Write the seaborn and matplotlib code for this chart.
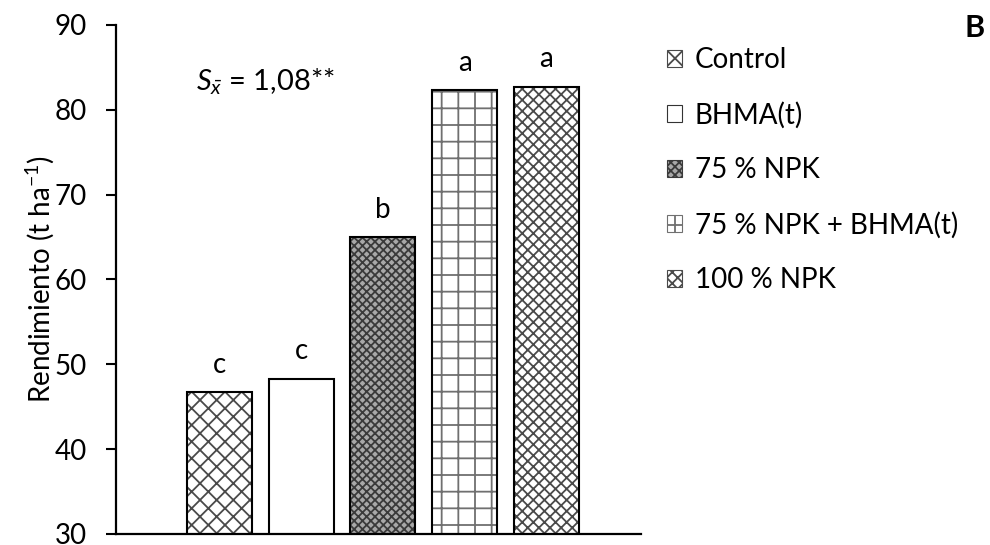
import matplotlib
matplotlib.use("Agg")
import matplotlib.pyplot as plt
import seaborn as sns
import pandas as pd
from matplotlib.patches import Patch

# ---- data ----
categories = ["Control", "BHMA(t)", "75 % NPK", "75 % NPK + BHMA(t)", "100 % NPK"]
values = [46.7, 48.3, 65.0, 82.3, 82.7]
letters = ["c", "c", "b", "a", "a"]
y_ticks = [30, 40, 50, 60, 70, 80, 90]
stat_text = r"$S_{\bar{x}}$ = 1,08**"
panel_label = "B"
ylabel = r"Rendimiento (t ha$^{-1}$)"

# ---- styles ----
face_colors = ["white", "white", "#a8a8a8", "white", "white"]
hatch_colors = ["#4a4a4a", "#ffffff", "#3a3a3a", "#707070", "#4a4a4a"]
hatches = ["xx", "", "xxxx", "+", "xxx"]

sns.set_theme(style="white")
plt.rcParams["font.family"] = ["Lato", "DejaVu Sans"]
plt.rcParams["mathtext.fontset"] = "custom"
plt.rcParams["mathtext.rm"] = "Lato"
plt.rcParams["mathtext.it"] = "Lato:italic"
plt.rcParams["mathtext.bf"] = "Lato:bold"
plt.rcParams["hatch.linewidth"] = 1.3

FS = 20

df = pd.DataFrame({"cat": categories, "val": values})

fig = plt.figure(figsize=(9.9, 5.45), dpi=100)
ax = fig.add_axes([116 / 990, 11 / 545, 524.7 / 990, 509.1 / 545])

sns.barplot(data=df, x="cat", y="val", order=categories, width=0.795, ax=ax,
            color="white", linewidth=0, saturation=1)
for p, fc, hc, h in zip(ax.patches, face_colors, hatch_colors, hatches):
    p.set_facecolor(fc)
    p.set_edgecolor(hc)
    p.set_hatch(h)
    p.set_linewidth(0)
n_first = len(ax.patches)
sns.barplot(data=df, x="cat", y="val", order=categories, width=0.795, ax=ax,
            fill=False, color="black", linewidth=1.5, saturation=1)
for p in ax.patches[n_first:]:
    p.set_edgecolor("black")
    p.set_facecolor("none")

ax.set_ylim(30, 90)
ax.set_xlim(-1.262, 5.153)
ax.set_yticks(y_ticks)
ax.set_yticklabels([str(t) for t in y_ticks], fontsize=FS)
ax.set_xticks([])
ax.set_xlabel("")
ax.set_ylabel("")
for s in ["top", "right"]:
    ax.spines[s].set_visible(False)
for s in ["left", "bottom"]:
    ax.spines[s].set_color("black")
    ax.spines[s].set_linewidth(1.6)
ax.tick_params(axis="y", direction="out", length=7, width=1.5, color="black",
               left=True, pad=14, labelcolor="black")

# letters above bars
for i, (v, l) in enumerate(zip(values, letters)):
    ax.annotate(l, xy=(i, v), xytext=(0, 14), textcoords="offset points",
                ha="center", va="baseline", fontsize=FS, color="black")

fig.text(40 / 990, 1 - 279.5 / 545, ylabel,
         rotation=90, ha="center", va="center", fontsize=FS, color="black")
fig.text(196 / 990, 1 - 82 / 545, stat_text, ha="left", va="center",
         fontsize=21, color="black")
fig.text(975 / 990, 1 - 28 / 545, panel_label, ha="center", va="center",
         fontsize=22, fontweight="bold", color="black")

handles = [Patch(facecolor=fc, edgecolor=hc if h else "#333333", hatch=h,
                 linewidth=0.8)
           for fc, hc, h in zip(face_colors, hatch_colors, hatches)]
leg = fig.legend(handles, categories, loc="upper left",
                 bbox_to_anchor=(667 / 990, 1 - 47 / 545), frameon=False,
                 fontsize=FS, handlelength=0.55, handleheight=0.55,
                 handletextpad=0.45, labelspacing=1.03, borderpad=0,
                 borderaxespad=0)
for t in leg.get_texts():
    t.set_color("black")

fig.savefig("out.png", dpi=100)
